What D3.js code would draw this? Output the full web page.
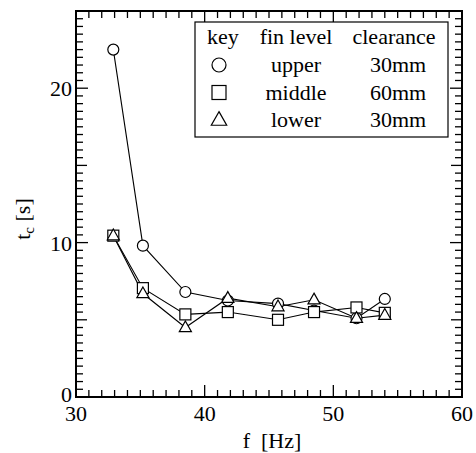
<!DOCTYPE html>
<html>
<head>
<meta charset="utf-8">
<script src="https://cdn.jsdelivr.net/npm/d3@7"></script>
<style>
  body { margin: 0; background: #fff; }
  text { font-family: "Liberation Serif", "Times New Roman", Times, serif; }
</style>
</head>
<body>
<svg id="chart" width="476" height="453"></svg>
<script>
// frequency [Hz] and time constant [s] per fin level
const freq = [32.9, 35.2, 38.5, 41.8, 45.7, 48.5, 51.8, 54.0];
const upper = [22.5, 9.8, 6.8, 6.25, 6.05, 5.6, 5.1, 6.35];
const middle = [10.45, 7.05, 5.35, 5.5, 5.0, 5.5, 5.8, 5.45];
const lower = [10.45, 6.7, 4.5, 6.4, 5.85, 6.3, 5.1, 5.3];

const finLevels = ['upper', 'middle', 'lower'];
const clearances = ['30mm', '60mm', '30mm'];
const xTicks = [30, 40, 50, 60];
const yTicks = [0, 10, 20];

const svg = d3.select('#chart');
const pL = 76, pR = 462, pT = 11, pB = 397;

const x = d3.scaleLinear().domain([30, 60]).range([pL, pR]);
const y = d3.scaleLinear().domain([0, 25]).range([pB, pT]);

const fontSize = 22;

// tick marks on all four sides, pointing inward
const xMinor = d3.range(31, 60).filter(d => d % 10 !== 0);
const yMinor = d3.range(0.5, 25, 0.5).filter(d => d % 5 !== 0);
const yMid = [5, 15, 25];

const xt = xMinor.map(v => ({ v, len: 7 })).concat(xTicks.map(v => ({ v, len: 12 })));
const yt = yMinor.map(v => ({ v, len: 7 }))
  .concat(yMid.map(v => ({ v, len: 11 })))
  .concat(yTicks.map(v => ({ v, len: 12 })));

const tg = svg.append('g').attr('stroke', '#000').attr('stroke-width', 1.3);
[pB, pT].forEach((edge, k) => {
  tg.selectAll(null).data(xt).join('line')
    .attr('x1', d => x(d.v)).attr('x2', d => x(d.v))
    .attr('y1', edge).attr('y2', d => k === 0 ? edge - d.len : edge + d.len);
});
[pL, pR].forEach((edge, k) => {
  tg.selectAll(null).data(yt).join('line')
    .attr('y1', d => y(d.v)).attr('y2', d => y(d.v))
    .attr('x1', edge).attr('x2', d => k === 0 ? edge + d.len : edge - d.len);
});

// tick labels
svg.append('g').selectAll('text')
  .data(xTicks).join('text')
  .attr('x', d => x(d)).attr('y', 421)
  .attr('text-anchor', 'middle').attr('font-size', fontSize)
  .text(d => d);

svg.append('g').selectAll('text')
  .data(yTicks).join('text')
  .attr('x', pL - 4).attr('y', d => y(d) + (d === 0 ? 5 : 8))
  .attr('text-anchor', 'end').attr('font-size', fontSize)
  .text(d => d);

// frame
svg.append('rect')
  .attr('x', pL).attr('y', pT)
  .attr('width', pR - pL).attr('height', pB - pT)
  .attr('fill', 'none').attr('stroke', '#000').attr('stroke-width', 2);

// axis titles
svg.append('text')
  .attr('x', (pL + pR) / 2 + 3).attr('y', 448)
  .attr('text-anchor', 'middle').attr('font-size', fontSize)
  .style('white-space', 'pre')
  .text('f  [Hz]');

const yl = svg.append('text')
  .attr('transform', 'translate(30,219) rotate(-90)')
  .attr('text-anchor', 'middle').attr('font-size', fontSize);
yl.append('tspan').text('t');
yl.append('tspan').attr('font-size', 15).attr('dy', 4).text('c');
yl.append('tspan').attr('dy', -4).text(' [s]');

// markers
const circle = (g, r) => g.append('circle').attr('r', r);
const square = (g, r) => g.append('rect').attr('x', -r).attr('y', -r).attr('width', 2 * r).attr('height', 2 * r);
const triangle = (g, r) => g.append('path')
  .attr('d', `M0,${-r * 1.2}L${r * 1.1},${r * 0.75}L${-r * 1.1},${r * 0.75}Z`);

const series = [
  { values: upper, mark: circle },
  { values: middle, mark: square },
  { values: lower, mark: triangle }
];

const line = d3.line().x(d => x(d[0])).y(d => y(d[1]));

series.forEach(s => {
  svg.append('path')
    .datum(freq.map((f, i) => [f, s.values[i]]))
    .attr('d', line)
    .attr('fill', 'none').attr('stroke', '#000').attr('stroke-width', 1.1);
});

series.forEach(s => {
  freq.forEach((f, i) => {
    const g = svg.append('g').attr('transform', `translate(${x(f)},${y(s.values[i])})`);
    s.mark(g, 5.5).attr('fill', '#fff').attr('stroke', '#000').attr('stroke-width', 1.2);
  });
});

// legend table
const lg = svg.append('g').attr('font-size', fontSize);
lg.append('rect')
  .attr('x', 195).attr('y', 22).attr('width', 253).attr('height', 115)
  .attr('fill', '#fff').attr('stroke', '#000').attr('stroke-width', 1.2);

const colX = [223, 296, 394];
const rowY = [44, 72, 99.5, 127];
['key', 'fin level', 'clearance'].forEach((t, c) => {
  lg.append('text').attr('x', colX[c]).attr('y', rowY[0])
    .attr('text-anchor', 'middle').text(t);
});
finLevels.forEach((lvl, r) => {
  const g = lg.append('g').attr('transform', `translate(219,${rowY[r + 1] - 7})`);
  series[r].mark(g, 7).attr('fill', '#fff').attr('stroke', '#000').attr('stroke-width', 1.2);
  lg.append('text').attr('x', colX[1]).attr('y', rowY[r + 1])
    .attr('text-anchor', 'middle').text(lvl);
  lg.append('text').attr('x', colX[2] + 4).attr('y', rowY[r + 1])
    .attr('text-anchor', 'middle').text(clearances[r]);
});
</script>
</body>
</html>
